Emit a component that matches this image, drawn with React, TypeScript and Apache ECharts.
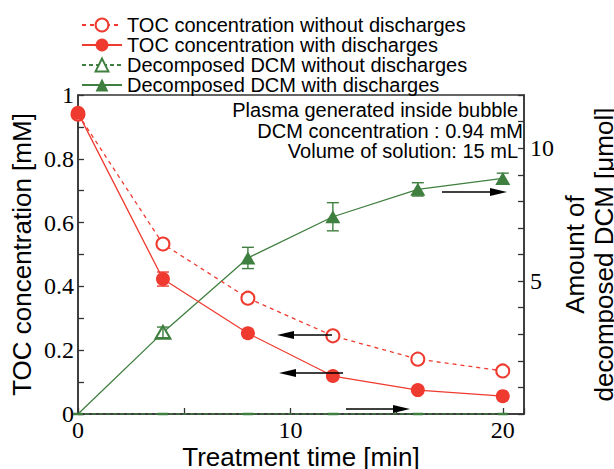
import React, { useEffect, useRef } from "react";
import * as echarts from "echarts";

const timeMin = [0, 4, 8, 12, 16, 20];
const tocWithout = [0.94, 0.533, 0.363, 0.245, 0.172, 0.135];
const tocWith = [0.944, 0.423, 0.253, 0.119, 0.075, 0.056];
const tocWithErr = [0, 0.022, 0, 0, 0, 0];
const dcmWithout = [0, 0, 0, 0, 0, 0];
const dcmWith = [0, 3.07, 5.87, 7.42, 8.45, 8.86];
const dcmWithErr = [0, 0.2, 0.4, 0.53, 0.25, 0.2];

const legendNames = [
  "TOC concentration without discharges",
  "TOC concentration with discharges",
  "Decomposed DCM without discharges",
  "Decomposed DCM with discharges",
];
const noteLines = [
  "Plasma generated inside bubble",
  "DCM concentration : 0.94 mM",
  "Volume of solution: 15 mL",
];

const RED = "#ef3a30";
const GREEN = "#3f7f3f";
const AXIS = "#333";
const SANS = "Liberation Sans, Arial, sans-serif";
const SERIF = "Liberation Serif, Times New Roman, serif";

function errorBars(color: string) {
  return (params: any, api: any) => {
    const x = api.value(0);
    const y = api.value(1);
    const e = api.value(2);
    if (!e) return { type: "group", children: [] };
    const top = api.coord([x, y + e]);
    const bot = api.coord([x, y - e]);
    const hw = 6;
    const style = { stroke: color, lineWidth: 1.4 };
    return {
      type: "group",
      children: [
        { type: "line", shape: { x1: top[0], y1: top[1], x2: bot[0], y2: bot[1] }, style },
        { type: "line", shape: { x1: top[0] - hw, y1: top[1], x2: top[0] + hw, y2: top[1] }, style },
        { type: "line", shape: { x1: bot[0] - hw, y1: bot[1], x2: bot[0] + hw, y2: bot[1] }, style },
      ],
    };
  };
}

function arrow(x1: number, x2: number, y: number) {
  // x2 is the tip
  const dir = x2 > x1 ? 1 : -1;
  const base = x2 - dir * 17;
  return [
    { type: "line", shape: { x1, y1: y, x2: base, y2: y }, style: { stroke: "#000", lineWidth: 1.5 }, z: 100 },
    { type: "polygon", shape: { points: [[base, y - 4], [x2, y], [base, y + 4]] }, style: { fill: "#000" }, z: 100 },
  ];
}

export default function App() {
  const ref = useRef<HTMLDivElement>(null);
  useEffect(() => {
    document.body.style.margin = "0";
    if (!ref.current) return;
    const chart = echarts.init(ref.current, undefined, { renderer: "svg" });
    const option: any = {
      animation: false,
      backgroundColor: "#fff",
      grid: {
        left: 78,
        right: 90,
        top: 95,
        bottom: 55,
        show: true,
        borderColor: AXIS,
        borderWidth: 1.5,
        containLabel: false,
        outerBoundsMode: "none",
      },
      legend: {
        orient: "vertical",
        left: 76,
        top: 10,
        itemWidth: 40,
        itemHeight: 16,
        itemGap: 0,
        data: legendNames,
        textStyle: { fontFamily: SANS, fontSize: 20, color: "#000", lineHeight: 20 },
        selectedMode: false,
      },
      xAxis: {
        type: "value",
        min: 0,
        max: 21,
        interval: 5,
        name: "Treatment time [min]",
        nameLocation: "middle",
        nameGap: 30,
        nameMoveOverlap: false,
        nameTextStyle: { fontFamily: SANS, fontSize: 26, color: "#000" },
        axisLine: { show: true, lineStyle: { color: AXIS, width: 1.5 } },
        axisTick: { show: true, inside: true, length: 6, lineStyle: { color: AXIS, width: 1.3 } },
        splitLine: { show: false },
        axisLabel: {
          fontFamily: SERIF,
          fontSize: 24,
          color: "#000",
          margin: 4,
          formatter: (v: number) => (v % 10 === 0 && v <= 20 ? String(v) : ""),
        },
      },
      yAxis: [
        {
          type: "value",
          min: 0,
          max: 1,
          interval: 0.1,
          name: "TOC concentration [mM]",
          nameLocation: "middle",
          nameGap: 43,
          nameMoveOverlap: false,
          nameTextStyle: { fontFamily: SANS, fontSize: 26, color: "#000" },
          axisLine: { show: true, lineStyle: { color: AXIS, width: 1.5 } },
          axisTick: { show: true, inside: true, length: 6, lineStyle: { color: AXIS, width: 1.3 } },
          splitLine: { show: false },
          axisLabel: {
            fontFamily: SERIF,
            fontSize: 24,
            color: "#000",
            margin: 4,
            formatter: (v: number) => {
              const k = Math.round(v * 10);
              return k % 2 === 0 ? String(k / 10) : "";
            },
          },
        },
        {
          type: "value",
          position: "right",
          min: 0,
          max: 12,
          interval: 1,
          name: "Amount of\ndecomposed DCM [μmol]",
          nameLocation: "middle",
          nameGap: 36,
          nameRotate: 90,
          nameMoveOverlap: false,
          nameTextStyle: { fontFamily: SANS, fontSize: 26, color: "#000", lineHeight: 29, align: "center" },
          axisLine: { show: true, lineStyle: { color: AXIS, width: 1.5 } },
          axisTick: { show: true, inside: true, length: 6, lineStyle: { color: AXIS, width: 1.3 } },
          splitLine: { show: false },
          axisLabel: {
            fontFamily: SERIF,
            fontSize: 24,
            color: "#000",
            margin: 6,
            formatter: (v: number) => (v === 5 || v === 10 ? String(v) : ""),
          },
        },
      ],
      series: [
        {
          name: legendNames[2],
          type: "line",
          yAxisIndex: 1,
          symbol: "emptyTriangle",
          symbolSize: [15, 13],
          data: timeMin.map((t, i) => ({ value: [t, dcmWithout[i]], symbol: "rect", symbolSize: [10, 2.5] })),
          lineStyle: { color: GREEN, width: 1.3, type: [4, 3] },
          itemStyle: { color: GREEN },
          z: 3,
        },
        {
          name: legendNames[3],
          type: "line",
          yAxisIndex: 1,
          symbol: "triangle",
          symbolSize: [15, 13],
          data: timeMin.map((t, i) => {
            if (i === 0) return { value: [t, dcmWith[i]], symbol: "none" };
            if (i === 1) return { value: [t, dcmWith[i]], symbol: "emptyTriangle", itemStyle: { borderWidth: 1.5 } };
            return [t, dcmWith[i]];
          }),
          lineStyle: { color: GREEN, width: 1.3 },
          itemStyle: { color: GREEN },
          z: 4,
        },
        {
          name: "dcmErr",
          type: "custom",
          yAxisIndex: 1,
          renderItem: errorBars(GREEN),
          data: timeMin.map((t, i) => [t, dcmWith[i], dcmWithErr[i]]),
          encode: { x: 0, y: 1 },
          z: 5,
        },
        {
          name: legendNames[0],
          type: "line",
          yAxisIndex: 0,
          symbol: "emptyCircle",
          symbolSize: 13,
          data: timeMin.map((t, i) => [t, tocWithout[i]]),
          lineStyle: { color: RED, width: 1.3, type: [4, 4] },
          itemStyle: { color: RED, borderWidth: 1.5 },
          z: 6,
        },
        {
          name: legendNames[1],
          type: "line",
          yAxisIndex: 0,
          symbol: "circle",
          symbolSize: 14,
          data: timeMin.map((t, i) => [t, tocWith[i]]),
          lineStyle: { color: RED, width: 1.3 },
          itemStyle: { color: RED },
          z: 7,
        },
        {
          name: "tocErr",
          type: "custom",
          yAxisIndex: 0,
          renderItem: errorBars(RED),
          data: timeMin.map((t, i) => [t, tocWith[i], tocWithErr[i]]),
          encode: { x: 0, y: 1 },
          z: 8,
        },
      ],
      graphic: [
        ...noteLines.map((s, i) => ({
          type: "text",
          right: [96, 91, 96][i],
          top: [100, 121, 141][i],
          style: { text: s, font: `20px ${SANS}`, fill: "#000" },
          z: 100,
        })),
        ...arrow(442, 507, 192),
        ...arrow(332, 277, 335),
        ...arrow(343, 279, 373),
        ...arrow(346, 410, 409),
      ],
    };
    chart.setOption(option);
    return () => chart.dispose();
  }, []);
  return <div ref={ref} style={{ width: 614, height: 469 }} />;
}
